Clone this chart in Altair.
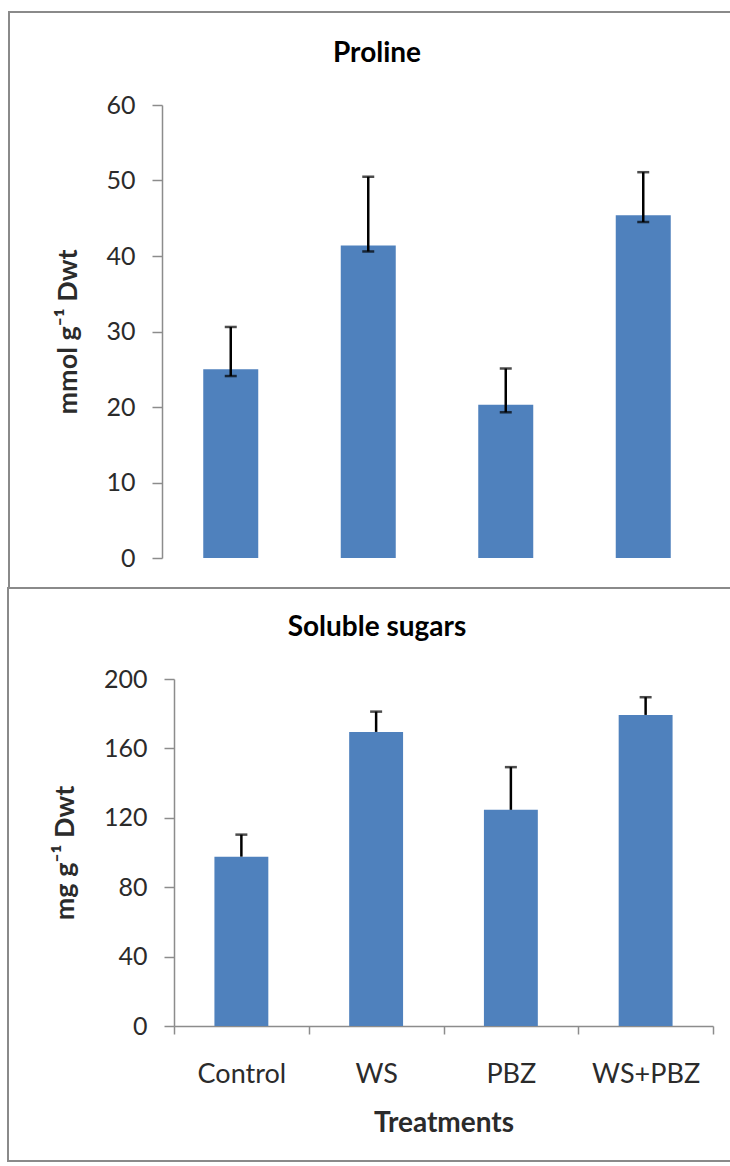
import altair as alt
import pandas as pd

# ---------------- data ----------------
treatments = ["Control", "WS", "PBZ", "WS+PBZ"]
proline_mean = [25.0, 41.4, 20.3, 45.4]
proline_low = [24.1, 40.6, 19.3, 44.5]
proline_high = [30.6, 50.5, 25.1, 51.1]
sugar_mean = [97.6, 169.5, 124.6, 179.3]
sugar_high = [110.3, 181.2, 149.2, 189.5]
proline_ticks = [0, 10, 20, 30, 40, 50, 60]
sugar_ticks = [0, 40, 80, 120, 160, 200]
panel_titles = ["Proline", "Soluble sugars"]

top_df = pd.DataFrame({"t": treatments, "m": proline_mean, "lo": proline_low, "hi": proline_high})
bot_df = pd.DataFrame({"t": treatments, "m": sugar_mean, "hi": sugar_high})

# ---------------- style ----------------
BLUE = "#4F81BD"
GREY = "#8C8C8C"
BORDER = "#8A8A8A"
TXT = "#2b2b2b"
FONT = "Lato"

PAD_L, PAD_T, PAD_R, PAD_B = 174, 105, 17, 140
W, H = 539, 921

axis_common = dict(
    grid=False, domainColor=GREY, domainWidth=1.5, tickColor=GREY, tickWidth=1.5,
    labelFont=FONT, labelColor=TXT, labelFlush=False, labelOverlap=False,
    titleFont=FONT, titleFontWeight="bold", titleColor=TXT,
)

# ---------------- top panel (Proline) ----------------
x_top = alt.X("t:N", sort=treatments, axis=None,
              scale=alt.Scale(domain=treatments, range=[-12, 538], paddingInner=0, paddingOuter=0))
y_top_scale = alt.Scale(domain=[0, 60], range=[453, 0], nice=False, zero=True)
y_top_axis = alt.Axis(orient="left", offset=12, values=proline_ticks, tickSize=10, labelPadding=17,
                      labelFontSize=25,
                      title="mmol g\u207b\u00b9 Dwt", titleFontSize=27, titleAngle=270,
                      titleX=-94, titleBaseline="middle", **axis_common)

top_bars = alt.Chart().mark_bar(color=BLUE, width={"band": 0.4}).encode(
    x=x_top, y=alt.Y("m:Q", scale=y_top_scale, axis=y_top_axis))
top_rule = alt.Chart().mark_rule(color="black", strokeWidth=2.5).encode(
    x=x_top, y=alt.Y("lo:Q"), y2="hi:Q")
top_cap_lo = alt.Chart().mark_tick(orient="horizontal", size=12, thickness=2.5, color="black").encode(
    x=x_top, y=alt.Y("lo:Q"))
top_cap_hi = alt.Chart().mark_tick(orient="horizontal", size=12, thickness=2.5, color="black").encode(
    x=x_top, y=alt.Y("hi:Q"))
top = alt.layer(top_bars, top_rule, top_cap_lo, top_cap_hi, data=top_df)

# ---------------- bottom panel (Soluble sugars) ----------------
x_bot = alt.X("t:N", sort=treatments,
              scale=alt.Scale(domain=treatments, range=[0, 539], paddingInner=0, paddingOuter=0),
              axis=alt.Axis(orient="bottom", tickBand="extent", tickSize=8, labelAngle=0,
                            labelFontSize=27, labelPadding=27,
                            title="Treatments", titleFontSize=28, titleY=83,
                            titleBaseline="top", **axis_common))
y_bot_scale = alt.Scale(domain=[0, 200], range=[921, 574], nice=False, zero=True)
y_bot_axis = alt.Axis(orient="left", offset=0, values=sugar_ticks, tickSize=10, labelPadding=17,
                      labelFontSize=25,
                      title="mg g\u207b\u00b9 Dwt", titleFontSize=27, titleAngle=270,
                      titleX=-109, titleBaseline="middle", **axis_common)

bot_bars = alt.Chart().mark_bar(color=BLUE, width={"band": 0.4}).encode(
    x=x_bot, y=alt.Y("m:Q", scale=y_bot_scale, axis=y_bot_axis))
bot_rule = alt.Chart().mark_rule(color="black", strokeWidth=2.5).encode(
    x=x_bot, y=alt.Y("m:Q"), y2="hi:Q")
bot_cap = alt.Chart().mark_tick(orient="horizontal", size=12, thickness=2.5, color="black").encode(
    x=x_bot, y=alt.Y("hi:Q"))
bottom = alt.layer(bot_bars, bot_rule, bot_cap, data=bot_df)

# ---------------- panel frames and titles ----------------
one = pd.DataFrame({"k": [0]})
frame_top = alt.Chart(one).mark_rect(fillOpacity=0, stroke=BORDER, strokeWidth=2).encode(
    x=alt.value(-165), x2=alt.value(640), y=alt.value(-93), y2=alt.value(483))
frame_bot = alt.Chart(one).mark_rect(fillOpacity=0, stroke=BORDER, strokeWidth=2).encode(
    x=alt.value(-166), x2=alt.value(640), y=alt.value(483), y2=alt.value(1056))

title_top = alt.Chart(pd.DataFrame({"s": [panel_titles[0]]})).mark_text(
    font=FONT, fontSize=28, fontWeight="bold", color="black", align="center", baseline="alphabetic"
).encode(x=alt.value(203), y=alt.value(-43), text="s:N")
title_bot = alt.Chart(pd.DataFrame({"s": [panel_titles[1]]})).mark_text(
    font=FONT, fontSize=28, fontWeight="bold", color="black", align="center", baseline="alphabetic"
).encode(x=alt.value(203), y=alt.value(531), text="s:N")

chart = alt.layer(frame_top, frame_bot, title_top, title_bot, top, bottom).resolve_scale(
    x="independent", y="independent"
).properties(
    width=W, height=H,
    autosize=alt.AutoSizeParams(type="none"),
    padding={"left": PAD_L, "top": PAD_T, "right": PAD_R, "bottom": PAD_B},
    background="white",
).configure_view(stroke=None)

chart.save("out.html", embed_options={"renderer": "svg", "actions": False})
